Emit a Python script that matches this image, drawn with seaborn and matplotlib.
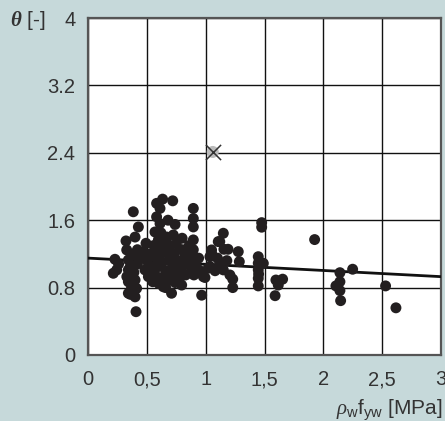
import matplotlib
matplotlib.use("Agg")
import matplotlib.pyplot as plt
import seaborn as sns
import pandas as pd

# ---- data ----
x_vals = [
    0.215, 0.229, 0.244, 0.26, 0.323, 0.329, 0.343, 0.343, 0.343, 0.343, 0.35, 0.36, 0.40, 0.408,
    0.413, 0.40, 0.385, 0.428, 0.40, 0.44, 0.42, 0.38, 0.37, 0.39, 0.42, 0.33, 0.36,
    0.493, 0.484, 0.513, 0.47, 0.50, 0.52, 0.55, 0.53, 0.56, 0.569, 0.583, 0.583, 0.598, 0.598,
    0.58, 0.57, 0.59, 0.60, 0.612, 0.612, 0.634, 0.62, 0.62, 0.63, 0.64, 0.63, 0.64, 0.60, 0.55,
    0.66, 0.66, 0.67, 0.68, 0.69, 0.70, 0.71, 0.70, 0.72, 0.725, 0.72, 0.73, 0.74, 0.75, 0.76,
    0.77, 0.78, 0.80, 0.79, 0.796, 0.81, 0.80, 0.82, 0.83, 0.68, 0.66, 0.74,
    0.895, 0.895, 0.895, 0.895, 0.895, 0.895, 0.88, 0.87, 0.90, 0.92, 0.94, 0.966, 0.98, 0.994,
    0.86, 0.85, 0.95,
    1.036, 1.05, 1.107, 1.022, 1.036, 1.05, 1.12, 1.15, 1.155, 1.19, 1.12, 1.15, 1.206, 1.23,
    1.23, 1.277, 1.286, 1.10, 1.08, 1.18,
    1.476, 1.476, 1.447, 1.447, 1.49, 1.447, 1.447, 1.447, 1.45,
    1.597, 1.654, 1.617, 1.59, 1.926, 2.141, 2.249, 2.141, 2.107, 2.141, 2.147, 2.529, 2.617,
]
theta_vals = [
    0.97, 1.136, 1.01, 1.08, 1.354, 1.247, 1.128, 1.01, 0.87, 0.733, 0.95, 1.05, 0.69, 0.514,
    0.79, 0.89, 1.70, 1.52, 1.40, 1.167, 1.25, 1.18, 0.80, 0.98, 1.08, 0.93, 0.72,
    1.326, 1.01, 0.93, 1.22, 1.12, 1.20, 1.05, 0.98, 1.30, 1.46, 1.64, 1.80, 1.366, 0.89,
    1.15, 0.95, 1.25, 1.05, 1.56, 1.74, 1.85, 1.45, 1.20, 1.10, 0.81, 0.92, 1.32, 0.85, 0.87,
    1.00, 1.22, 1.40, 0.88, 1.12, 1.30, 0.733, 0.95, 1.83, 1.425, 1.05, 1.20, 0.86, 1.32, 1.00,
    1.12, 0.92, 1.386, 1.25, 0.83, 1.247, 1.05, 1.15, 0.95, 1.60, 0.80, 1.55,
    1.74, 1.62, 1.52, 1.366, 1.25, 1.13, 1.02, 1.20, 0.95, 1.05, 1.15, 0.71, 0.93, 0.92,
    1.30, 1.08, 1.00,
    1.05, 1.21, 1.346, 1.03, 1.167, 1.247, 1.346, 1.445, 1.255, 1.255, 1.088, 1.01, 0.95, 0.90,
    0.80, 1.227, 1.108, 1.15, 1.00, 1.12,
    1.571, 1.517, 1.167, 1.09, 1.088, 1.01, 0.91, 0.82, 0.96,
    0.89, 0.90, 0.83, 0.704, 1.37, 0.977, 1.018, 0.87, 0.82, 0.764, 0.645, 0.82, 0.56,
]
outlier_x = [1.06]
outlier_y = [2.41]
fit_x = [0.0, 3.0]
fit_y = [1.15, 0.93]

x_ticks = [0, 0.5, 1, 1.5, 2, 2.5, 3]
x_tick_labels = ["0", "0,5", "1", "1,5", "2", "2,5", "3"]
y_ticks = [0, 0.8, 1.6, 2.4, 3.2, 4]
y_tick_labels = ["0", "0.8", "1.6", "2.4", "3.2", "4"]

# ---- plotting ----
sns.set_style("white")
plt.rcParams["font.family"] = ["Liberation Sans", "DejaVu Sans"]
plt.rcParams["mathtext.fontset"] = "custom"
plt.rcParams["mathtext.rm"] = "Liberation Sans"
plt.rcParams["mathtext.it"] = "Liberation Serif:italic"
plt.rcParams["mathtext.bf"] = "Liberation Serif:bold:italic"

bg = "#c6d9da"
fig = plt.figure(figsize=(4.45, 4.21), dpi=100, facecolor=bg)
ax = fig.add_axes([88 / 445, 1 - 355 / 421, (441 - 88) / 445, (355 - 18) / 421])
ax.set_facecolor("white")

df = pd.DataFrame({"x": x_vals, "theta": theta_vals})
fit = pd.DataFrame({"x": fit_x, "theta": fit_y})
out = pd.DataFrame({"x": outlier_x, "theta": outlier_y})

sns.lineplot(data=fit, x="x", y="theta", ax=ax, color="#111111", linewidth=2.0, zorder=3)
sns.scatterplot(data=df, x="x", y="theta", ax=ax, color="#231f20", s=62,
                edgecolor="none", linewidth=0, zorder=4)
sns.scatterplot(data=out, x="x", y="theta", ax=ax, color="#bbbbbb", s=75,
                edgecolor="none", linewidth=0, zorder=4)
sns.scatterplot(data=out, x="x", y="theta", ax=ax, color="#333333", marker="x", s=120,
                linewidth=1.1, zorder=5)

ax.set_xlim(0, 3)
ax.set_ylim(0, 4)
ax.set_xticks(x_ticks)
ax.set_xticklabels(x_tick_labels)
ax.set_yticks(y_ticks)
ax.set_yticklabels(y_tick_labels)
ax.tick_params(axis="both", length=0, labelsize=14.5, colors="#333333")
ax.tick_params(axis="x", pad=11)
ax.tick_params(axis="y", pad=9)
ax.grid(True, color="#111111", linewidth=1.0)
ax.set_axisbelow(True)
for sp in ax.spines.values():
    sp.set_color("#555555")
    sp.set_linewidth(1.6)
ax.set_xlabel("")
ax.set_ylabel("")

fig.text(10 / 445, 1 - 21 / 421, r"$\mathbf{\theta}$ [-]", fontsize=15, color="#333333",
         ha="left", va="center")
fig.text(443 / 445, 1 - 410 / 421, r"$\it{\rho}_{\rm w}\rm{f}_{\rm yw}$ [MPa]", fontsize=15,
         color="#333333", ha="right", va="center")

fig.savefig("out.png", dpi=100, facecolor=bg)
